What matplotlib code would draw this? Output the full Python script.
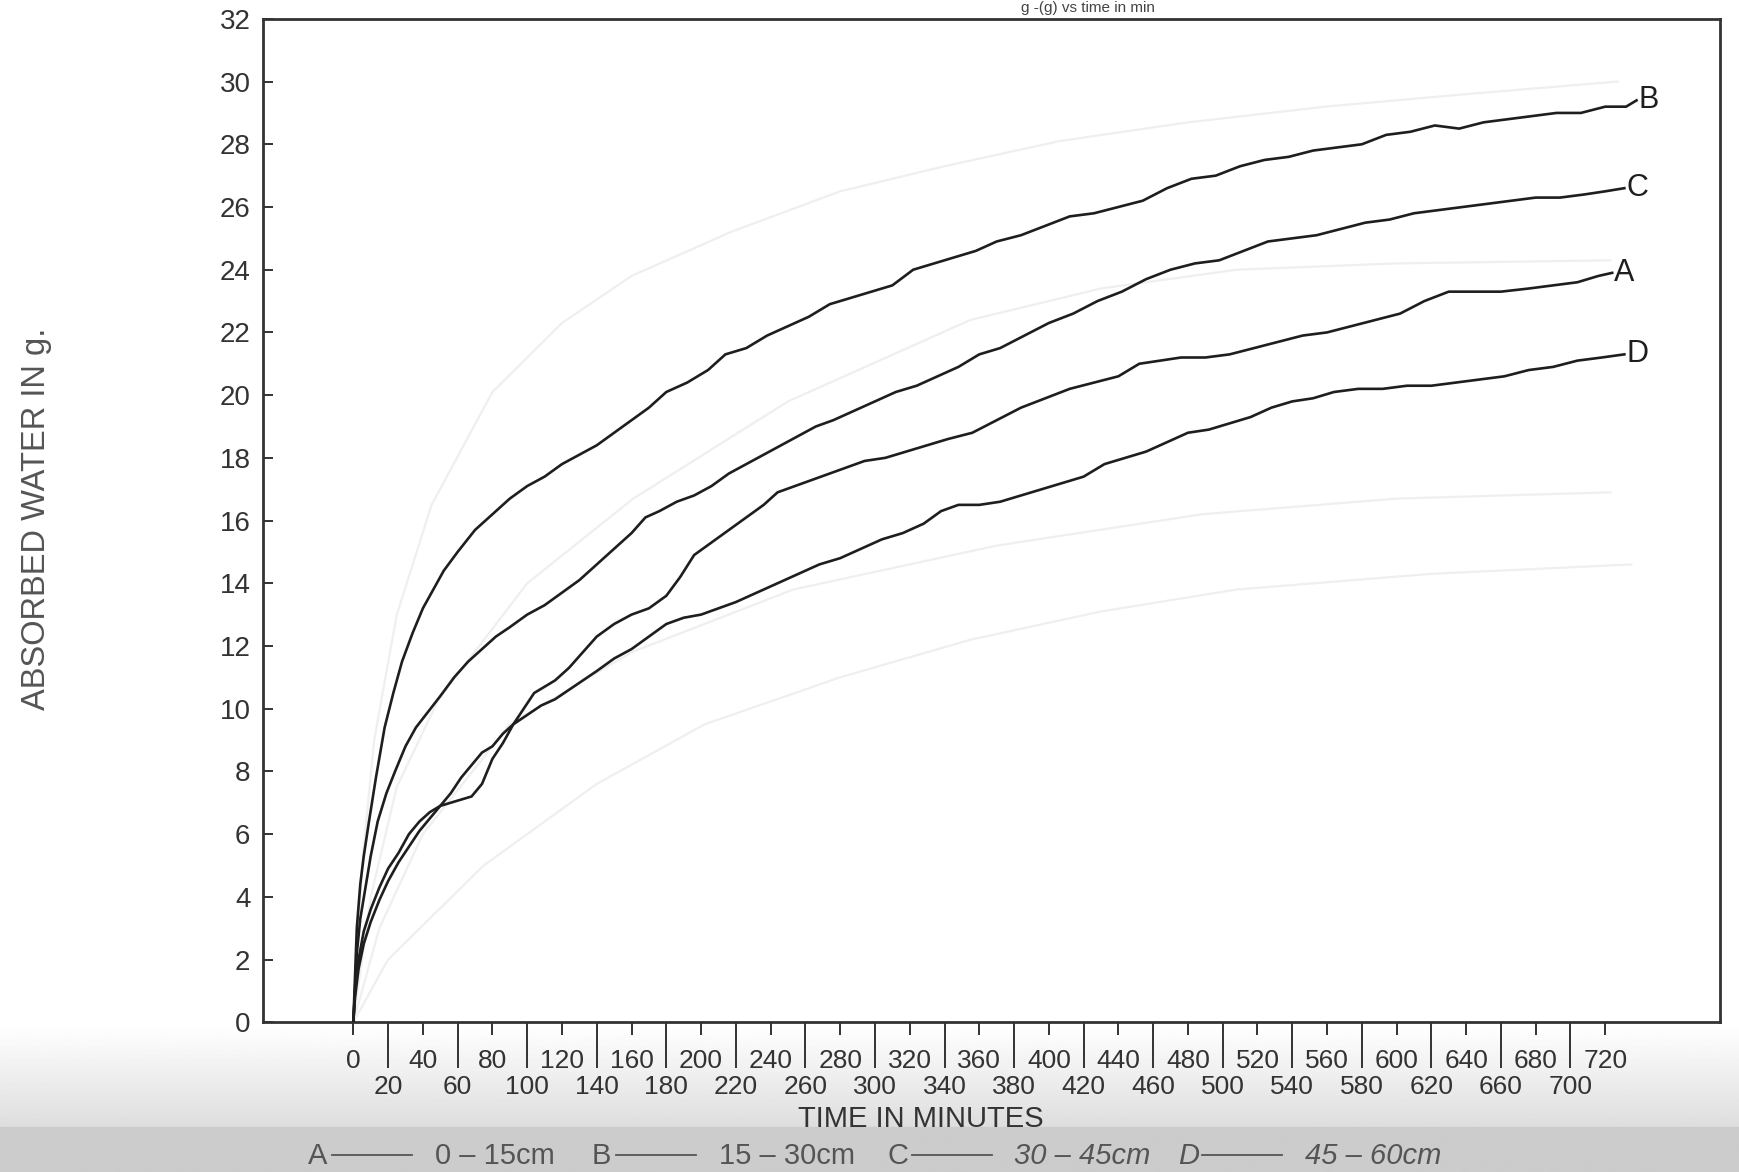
import numpy as np
import matplotlib
matplotlib.use('Agg')
import matplotlib.pyplot as plt
import matplotlib.font_manager as fm
from matplotlib.lines import Line2D

names = {f.name for f in fm.fontManager.ttflist}
FONT = 'Liberation Sans' if 'Liberation Sans' in names else 'DejaVu Sans'
plt.rcParams['font.family'] = [FONT, 'DejaVu Sans']

# absorbed water (g) vs time (min)
t_B = [0, 2, 4, 6, 9, 13, 18, 23, 28, 34, 40, 46, 52, 60, 70, 80, 90, 100, 110, 120, 130, 140, 150,
       160, 170, 180, 192, 204, 214, 226, 238, 250, 262, 274, 286, 298, 310, 322, 334, 346, 358, 370,
       384, 398, 412, 426, 440, 454, 468, 482, 496, 510, 524, 538, 552, 566, 580, 594, 608, 622, 636,
       650, 664, 678, 692, 706, 720, 732, 738]
w_B = [0, 3.0, 4.4, 5.3, 6.4, 7.8, 9.4, 10.5, 11.5, 12.4, 13.2, 13.8, 14.4, 15.0, 15.7, 16.2, 16.7,
       17.1, 17.4, 17.8, 18.1, 18.4, 18.8, 19.2, 19.6, 20.1, 20.4, 20.8, 21.3, 21.5, 21.9, 22.2, 22.5,
       22.9, 23.1, 23.3, 23.5, 24.0, 24.2, 24.4, 24.6, 24.9, 25.1, 25.4, 25.7, 25.8, 26.0, 26.2, 26.6,
       26.9, 27.0, 27.3, 27.5, 27.6, 27.8, 27.9, 28.0, 28.3, 28.4, 28.6, 28.5, 28.7, 28.8, 28.9, 29.0,
       29.0, 29.2, 29.2, 29.4]

t_C = [0, 2, 4, 7, 10, 14, 19, 24, 30, 36, 43, 50, 58, 66, 74, 82, 90, 100, 110, 120, 130, 140, 150,
       160, 168, 176, 186, 196, 206, 216, 226, 236, 246, 256, 266, 276, 288, 300, 312, 324, 336, 348,
       360, 372, 386, 400, 414, 428, 442, 456, 470, 484, 498, 512, 526, 540, 554, 568, 582, 596, 610,
       624, 638, 652, 666, 680, 694, 708, 720, 731]
w_C = [0, 2.2, 3.3, 4.3, 5.3, 6.4, 7.3, 8.0, 8.8, 9.4, 9.9, 10.4, 11.0, 11.5, 11.9, 12.3, 12.6, 13.0,
       13.3, 13.7, 14.1, 14.6, 15.1, 15.6, 16.1, 16.3, 16.6, 16.8, 17.1, 17.5, 17.8, 18.1, 18.4, 18.7,
       19.0, 19.2, 19.5, 19.8, 20.1, 20.3, 20.6, 20.9, 21.3, 21.5, 21.9, 22.3, 22.6, 23.0, 23.3, 23.7,
       24.0, 24.2, 24.3, 24.6, 24.9, 25.0, 25.1, 25.3, 25.5, 25.6, 25.8, 25.9, 26.0, 26.1, 26.2, 26.3,
       26.3, 26.4, 26.5, 26.6]

t_A = [0, 1, 3, 6, 10, 15, 20, 26, 32, 38, 44, 50, 56, 62, 68, 74, 80, 86, 92, 98, 104, 110, 116,
       124, 132, 140, 150, 160, 170, 180, 188, 196, 206, 216, 226, 236, 244, 254, 264, 274, 284, 294,
       306, 318, 330, 342, 356, 370, 384, 398, 412, 426, 440, 452, 464, 476, 490, 504, 518, 532, 546,
       560, 574, 588, 602, 616, 630, 644, 660, 676, 690, 704, 716, 724]
w_A = [0, 1.0, 2.0, 2.9, 3.6, 4.3, 4.9, 5.4, 6.0, 6.4, 6.7, 6.9, 7.0, 7.1, 7.2, 7.6, 8.4, 8.9, 9.5,
       10.0, 10.5, 10.7, 10.9, 11.3, 11.8, 12.3, 12.7, 13.0, 13.2, 13.6, 14.2, 14.9, 15.3, 15.7, 16.1,
       16.5, 16.9, 17.1, 17.3, 17.5, 17.7, 17.9, 18.0, 18.2, 18.4, 18.6, 18.8, 19.2, 19.6, 19.9, 20.2,
       20.4, 20.6, 21.0, 21.1, 21.2, 21.2, 21.3, 21.5, 21.7, 21.9, 22.0, 22.2, 22.4, 22.6, 23.0, 23.3,
       23.3, 23.3, 23.4, 23.5, 23.6, 23.8, 23.9]

t_D = [0, 1, 3, 6, 10, 15, 20, 26, 32, 38, 44, 50, 56, 62, 68, 74, 80, 86, 92, 100, 108, 116, 124,
       132, 140, 150, 160, 170, 180, 190, 200, 210, 220, 232, 244, 256, 268, 280, 292, 304, 316, 328,
       338, 348, 360, 372, 384, 396, 408, 420, 432, 444, 456, 468, 480, 492, 504, 516, 528, 540, 552,
       564, 578, 592, 606, 620, 634, 648, 662, 676, 690, 704, 718, 731]
w_D = [0, 0.8, 1.7, 2.5, 3.2, 3.9, 4.5, 5.1, 5.6, 6.1, 6.5, 6.9, 7.3, 7.8, 8.2, 8.6, 8.8, 9.2, 9.5,
       9.8, 10.1, 10.3, 10.6, 10.9, 11.2, 11.6, 11.9, 12.3, 12.7, 12.9, 13.0, 13.2, 13.4, 13.7, 14.0,
       14.3, 14.6, 14.8, 15.1, 15.4, 15.6, 15.9, 16.3, 16.5, 16.5, 16.6, 16.8, 17.0, 17.2, 17.4, 17.8,
       18.0, 18.2, 18.5, 18.8, 18.9, 19.1, 19.3, 19.6, 19.8, 19.9, 20.1, 20.2, 20.2, 20.3, 20.3, 20.4,
       20.5, 20.6, 20.8, 20.9, 21.1, 21.2, 21.3]

# faint curves showing through from the other side of the page
t_g1 = [0, 5, 12, 25, 45, 80, 120, 160, 217, 280, 340, 406, 480, 559, 640, 727]
w_g1 = [0, 5.0, 9.0, 13.0, 16.5, 20.1, 22.3, 23.8, 25.2, 26.5, 27.3, 28.1, 28.7, 29.2, 29.6, 30.0]
t_g2 = [0, 10, 25, 49, 100, 161, 250, 355, 430, 508, 600, 723]
w_g2 = [0, 4.0, 7.5, 10.3, 14.0, 16.7, 19.8, 22.4, 23.4, 24.0, 24.2, 24.3]
t_g3 = [0, 15, 40, 90, 160, 253, 370, 488, 600, 723]
w_g3 = [0, 3.0, 6.0, 9.5, 11.8, 13.8, 15.2, 16.2, 16.7, 16.9]
t_g4 = [0, 20, 75, 140, 202, 280, 355, 430, 508, 620, 735]
w_g4 = [0, 2.0, 5.0, 7.6, 9.5, 11.0, 12.2, 13.1, 13.8, 14.3, 14.6]

legend_items = [('A', '0 – 15cm'), ('B', '15 – 30cm'), ('C', '30 – 45cm'), ('D', '45 – 60cm')]

fig = plt.figure(figsize=(17.4, 11.72), dpi=100)

# grey shading of the scan at the bottom edge
bg = fig.add_axes([0, 0, 1, 0.125], zorder=-5)
shade = np.concatenate([np.linspace(1.0, 0.87, 90), np.full(40, 0.80)])[:, None]
bg.imshow(shade, cmap='gray', vmin=0, vmax=1, aspect='auto', extent=[0, 1, 0, 1])
bg.axis('off')

ax = fig.add_axes([0.1511, 0.1278, 0.8374, 0.8561])
ax.set_facecolor('none')

for tg, wg in [(t_g1, w_g1), (t_g2, w_g2), (t_g3, w_g3), (t_g4, w_g4)]:
    ax.plot(tg, wg, color='#efefef', lw=1.6, zorder=1)

ink = '#1e1e1e'
for name, t, w in [('B', t_B, w_B), ('C', t_C, w_C), ('A', t_A, w_A), ('D', t_D, w_D)]:
    ax.plot(t, w, color=ink, lw=1.9, zorder=3)
    ax.text(t[-1] + 1, w[-1], name, fontsize=22, color=ink, ha='left', va='center')

ax.set_xlim(-52, 786)
ax.set_ylim(0, 32)

ax.set_xticks(range(0, 721, 40))
ax.set_xticklabels([str(v) for v in range(0, 721, 40)])
ax.set_xticks(range(20, 721, 40), minor=True)
ax.set_xticklabels([str(v) for v in range(20, 721, 40)], minor=True)
ax.tick_params(axis='x', which='major', direction='out', length=9, width=1.4,
               pad=10, labelsize=19, color='#333333', labelcolor='#333333')
ax.tick_params(axis='x', which='minor', direction='out', length=33, width=1.4,
               pad=5, labelsize=19, color='#333333', labelcolor='#333333')

ax.set_yticks(range(0, 33, 2))
ax.tick_params(axis='y', direction='in', length=7, width=1.4, pad=9,
               labelsize=20, color='#333333', labelcolor='#333333')

for s in ax.spines.values():
    s.set_color('#333333')
    s.set_linewidth(2)

fig.text(0.021, 0.557, 'ABSORBED WATER IN g.', rotation=90, ha='center', va='center',
         fontsize=23.5, color='#555555')
fig.text(0.529, 0.045, 'TIME IN MINUTES', ha='center', va='center', fontsize=21, color='#333333')

# title line above the frame (cut by the scan edge in the original)
fig.text(0.625, 0.9995, 'g -(g) vs time in min', ha='center', va='top',
         fontsize=11, color='#444444')

# legend line at the bottom
starts = [0.177, 0.340, 0.510, 0.677]
for (letter, depth), x0 in zip(legend_items, starts):
    italic = letter in ('C', 'D')
    fig.text(x0, 0.0135, letter, ha='left', va='center', fontsize=21, color='#555555',
             style='italic' if letter == 'D' else 'normal')
    fig.add_artist(Line2D([x0 + 0.014, x0 + 0.060], [0.0145, 0.0145],
                          color='#555555', lw=1.3))
    fig.text(x0 + 0.073, 0.0135, depth, ha='left', va='center', fontsize=21, color='#555555',
             style='italic' if italic else 'normal')

fig.savefig('out.png', dpi=100)
